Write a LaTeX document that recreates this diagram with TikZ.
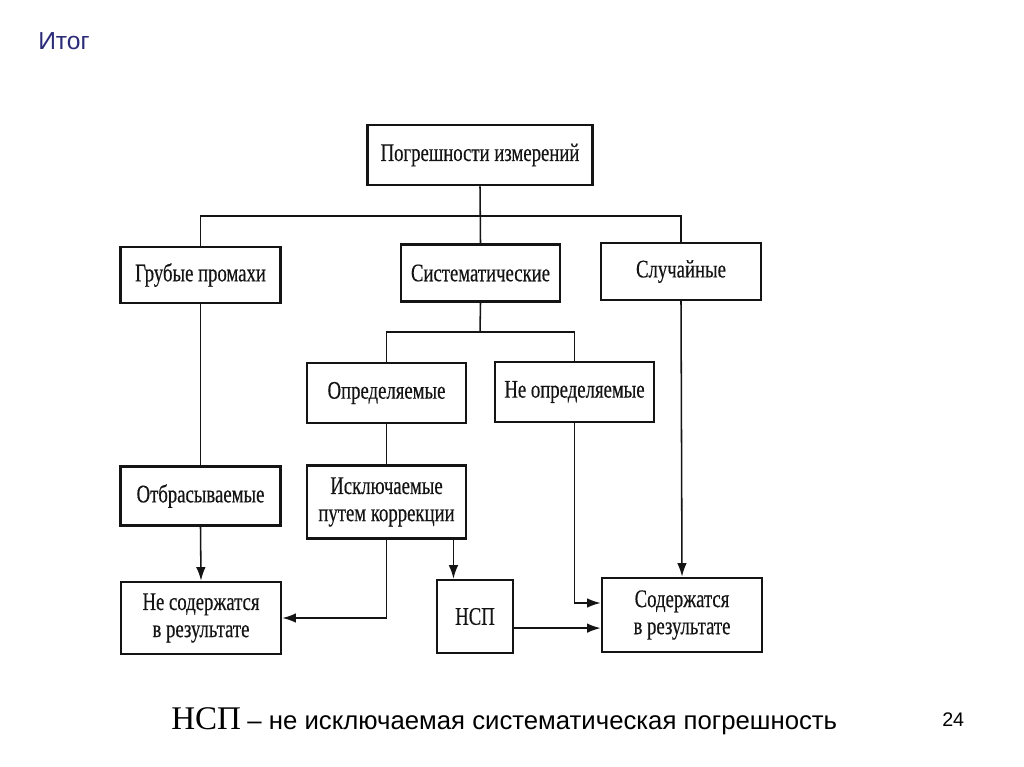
\documentclass[tikz,border=0pt]{standalone}
\usepackage{fontspec}
\setmainfont{Liberation Serif}
\newfontfamily\slidesans{Liberation Sans}
\newfontfamily\scanfont[FakeStretch=0.74, FakeBold=0.35]{Liberation Serif}
\definecolor{slideNavy}{HTML}{2B2B78}
\definecolor{scanInk}{HTML}{141414}
\usetikzlibrary{
	arrows.meta,
	positioning,
	calc
}
\tikzset{
	scanbox/.style={draw=scanInk, line width=1.9pt, fill=white, align=center,
		font=\scanfont\fontsize{18}{19.3}\selectfont, text=scanInk,
		inner sep=2pt, minimum width=4cm},
	scanline/.style={draw=scanInk, line width=1.1pt},
	scanarrow/.style={scanline, -{Latex[length=3.4mm, width=2.4mm]}}
}

\begin{document}
\begin{tikzpicture}[x=0.025cm, y=-0.025cm]
		\useasboundingbox (0,0) rectangle (1024,767);
		\fill[white] (0,0) rectangle (1024,767);
		\node[anchor=base west, inner sep=0pt, font=\slidesans\fontsize{17.5}{20}\selectfont, text=slideNavy] (title) at (38,50) {Итог};
		% first level
		\node[scanbox, minimum width=5.62cm, minimum height=1.5cm] (err) at (480,155) {Погрешности измерений};
		\node[scanbox, minimum height=1.4cm] (gross) at (200.5,275) {Грубые промахи};
		\node[scanbox, minimum width=3.98cm, minimum height=1.42cm] (syst) at (480.5,273) {Систематические};
		\node[scanbox, minimum height=1.42cm] (rand) at (681,271.5) {Случайные};
		% systematic branch
		\node[scanbox, minimum width=3.98cm, minimum height=1.5cm] (det) at (386.5,393) {Определяемые};
		\node[scanbox, minimum width=3.98cm, minimum height=1.5cm] (undet) at (574.5,392) {Не определяемые};
		\node[scanbox, minimum height=1.47cm] (discard) at (200.5,496) {Отбрасываемые};
		\node[scanbox, minimum width=3.98cm, minimum height=1.82cm] (corr) at (386.5,502) {Исключаемые\\путем коррекции};
		% results
		\node[scanbox, minimum height=1.8cm] (notin) at (201,618) {Не содержатся\\в результате};
		\node[scanbox, minimum width=1.9cm, minimum height=1.82cm] (nsp) at (475,616.5) {НСП};
		\node[scanbox, minimum height=1.85cm] (inres) at (682,615) {Содержатся\\в результате};
		% tree lines
		\coordinate (bus) at (480,216);
		\coordinate (subbus) at (480,332);
		\draw[scanline] (err.south) -- (syst.north);
		\draw[scanline] (gross.north) -- (gross.north |- bus) -- (rand.north |- bus) -- (rand.north);
		\draw[scanline] (syst.south) -- (subbus);
		\draw[scanline] (det.north) -- (det.north |- subbus) -- (undet.north |- subbus) -- (undet.north);
		\draw[scanline] (gross.south) -- (discard.north);
		\draw[scanline] (det.south) -- (corr.north);
		% arrows
		\draw[scanarrow] (discard.south) -- (notin.north);
		\draw[scanarrow] (corr.south) |- (notin.east);
		\coordinate (fork) at ([xshift=-0.35cm]corr.south east);
		\draw[scanarrow] (fork) -- (fork |- nsp.north);
		\draw[scanarrow] (undet.south) |- ([yshift=0.3cm]inres.west);
		\coordinate (nspout) at ([yshift=-0.29cm]nsp.east);
		\draw[scanarrow] (nspout) -- (nspout -| inres.west);
		\draw[scanarrow] (rand.south) -- (inres.north);
		% caption
		\node[anchor=base west, inner sep=0pt, font=\fontsize{18.3}{22}\selectfont] (caption) at (171,729)
			{{\fontsize{23.5}{26}\selectfont НСП} {\slidesans –~не исключаемая систематическая погрешность}};
		\node[anchor=base west, inner sep=0pt, font=\slidesans\fontsize{14}{16}\selectfont] (pageno) at (942,726) {24};
	\end{tikzpicture}
\end{document}
